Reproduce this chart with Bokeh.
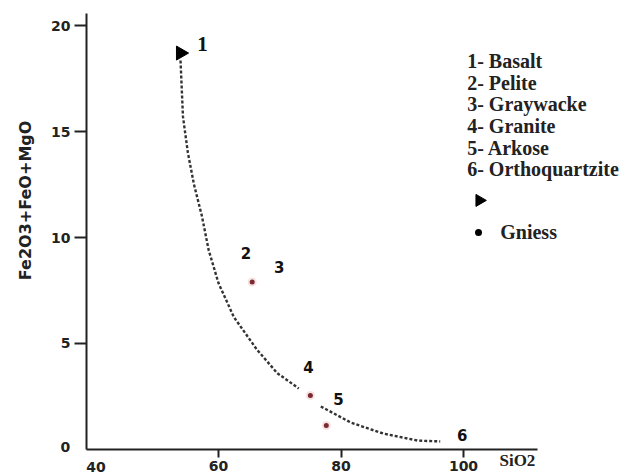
import math
from bokeh.plotting import figure
from bokeh.models import Range1d, FixedTicker, Label
from bokeh.embed import file_html
from bokeh.resources import INLINE

# ---- data ----
curve1_x = [53.8, 54.2, 55.0, 56.0, 57.3, 58.4, 60.0, 62.5, 66.3, 69.6, 73.1]
curve1_y = [18.35, 15.7, 14.0, 12.5, 11.0, 9.4, 7.85, 6.25, 4.7, 3.6, 2.88]
curve2_x = [76.7, 81.6, 86.9, 92.5, 96.2]
curve2_y = [2.03, 1.27, 0.75, 0.42, 0.38]

basalt_x = [53.8]
basalt_y = [18.7]

gniess_x = [65.5, 75.0, 77.6]
gniess_y = [7.9, 2.55, 1.13]

point_labels = ["1", "2", "3", "4", "5", "6"]
point_label_x = [57.4, 64.5, 69.9, 74.7, 79.6, 99.8]
point_label_y = [19.15, 9.25, 8.6, 3.87, 2.4, 0.66]

legend_items = ["1- Basalt", "2- Pelite", "3- Graywacke", "4- Granite",
                "5- Arkose", "6- Orthoquartzite"]

x_ticks = [60, 80, 100]
y_ticks = [5, 10, 15, 20]
x_label = "SiO2"
y_label = "Fe2O3+FeO+MgO"

X0, X1 = 38.45, 112.08   # extent of the x axis line
Y0, Y1 = 0.0, 20.57      # extent of the y axis line

# ---- figure: frame covers the whole canvas, axes are placed at fixed spots ----
p = figure(width=635, height=474, output_backend="svg", toolbar_location=None,
           x_range=Range1d(24.41, 128.08), y_range=Range1d(-1.18, 21.18),
           min_border=0)
p.outline_line_color = None
p.xgrid.visible = False
p.ygrid.visible = False
p.background_fill_color = "white"
p.border_fill_color = "white"

xa = p.xaxis[0]
ya = p.yaxis[0]
for ax in (xa, ya):
    ax.axis_line_color = "#222222"
    ax.axis_line_width = 2
    ax.major_tick_line_color = "#222222"
    ax.major_tick_line_width = 2
    ax.major_tick_in = 0
    ax.minor_tick_line_color = None
    ax.major_label_text_font = "DejaVu Sans"
    ax.major_label_text_font_style = "bold"
    ax.major_label_text_font_size = "14px"
    ax.major_label_text_color = "#222222"

xa.ticker = FixedTicker(ticks=x_ticks)
ya.ticker = FixedTicker(ticks=y_ticks)
xa.fixed_location = Y0
ya.fixed_location = X0
xa.bounds = (X0, X1)
ya.bounds = (Y0, Y1)
xa.major_tick_out = 8
xa.major_label_standoff = 4
ya.major_tick_out = 12
ya.major_label_standoff = 4

# ---- curve ----
p.line(curve1_x, curve1_y, line_color="#333333", line_width=2.4, line_dash="3 2")
p.line(curve2_x, curve2_y, line_color="#333333", line_width=2.4, line_dash="3 2")

# ---- points ----
p.scatter(basalt_x, basalt_y, marker="triangle", size=14, angle=-math.pi / 2,
          fill_color="black", line_color="black")
p.scatter(gniess_x, gniess_y, marker="circle", size=9, fill_color="#f4d6d6",
          line_color=None, fill_alpha=0.7)
p.scatter(gniess_x, gniess_y, marker="circle", size=5, fill_color="#7a2a32",
          line_color=None)

# ---- point labels ----
for i, (t, lx, ly) in enumerate(zip(point_labels, point_label_x, point_label_y)):
    serif = (i == 0)
    p.add_layout(Label(x=lx, y=ly, text=t,
                       text_font="Liberation Serif" if serif else "DejaVu Sans",
                       text_font_style="bold",
                       text_font_size="21px" if serif else "15px",
                       text_color="#111111", text_align="center",
                       text_baseline="middle"))

# tick labels that have no tick mark, and the axis titles
p.add_layout(Label(x=35.0, y=0.1, text="0", text_font="DejaVu Sans",
                   text_font_style="bold", text_font_size="14px",
                   text_color="#222222", text_align="center",
                   text_baseline="middle"))
p.add_layout(Label(x=40, y=-0.57, text="40", text_font="DejaVu Sans",
                   text_font_style="bold", text_font_size="14px",
                   text_color="#222222", text_align="center",
                   text_baseline="top"))
p.add_layout(Label(x=108.8, y=-0.52, text=x_label,
                   text_font="Liberation Serif", text_font_style="bold",
                   text_font_size="17px", text_color="#222222",
                   text_align="center", text_baseline="middle"))
p.add_layout(Label(x=28.5, y=11.75, text=y_label, angle=math.pi / 2,
                   text_font="DejaVu Sans", text_font_style="bold",
                   text_font_size="16px", text_color="#222222",
                   text_align="center", text_baseline="middle"))

# ---- legend ----
leg_x = 100.6
leg_y0 = 18.32
leg_dy = 1.022
for i, item in enumerate(legend_items):
    p.add_layout(Label(x=leg_x, y=leg_y0 - i * leg_dy, text=item,
                       text_font="Liberation Serif", text_font_style="bold",
                       text_font_size="20px", text_color="#222222",
                       text_align="left", text_baseline="middle"))

p.scatter([102.6], [11.75], marker="triangle", size=12, angle=-math.pi / 2,
          fill_color="black", line_color="black")
p.scatter([102.45], [10.24], marker="circle", size=7, fill_color="black",
          line_color=None)
p.add_layout(Label(x=106.0, y=10.24, text="Gniess", text_font="Liberation Serif",
                   text_font_style="bold", text_font_size="20px",
                   text_color="#222222", text_align="left",
                   text_baseline="middle"))

open("out.html", "w").write(file_html(p, INLINE))
